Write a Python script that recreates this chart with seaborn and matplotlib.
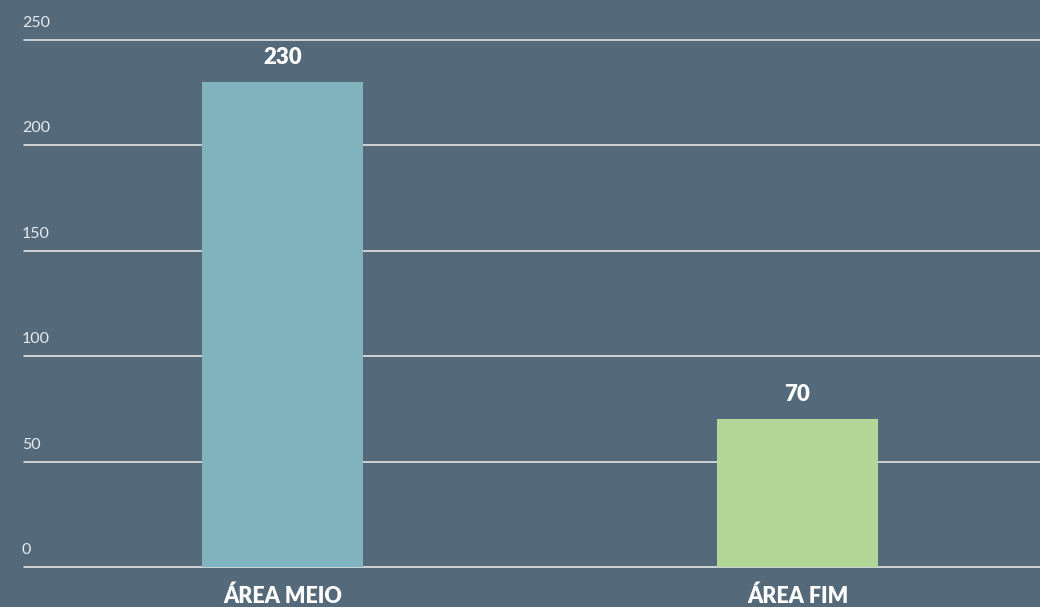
import matplotlib
matplotlib.use("Agg")
import matplotlib.pyplot as plt
import matplotlib.transforms as mtransforms
import seaborn as sns
import pandas as pd

# data
categories = ["ÁREA MEIO", "ÁREA FIM"]
values = [230, 70]
bar_colors = ["#82B4C0", "#B3D797"]
y_ticks = [0, 50, 100, 150, 200, 250]

bg = "#546A7B"

sns.set_theme(style="white")
plt.rcParams["font.family"] = ["Lato", "DejaVu Sans"]

df = pd.DataFrame({"area": categories, "valor": values})

fig = plt.figure(figsize=(10.4, 6.07), dpi=100, facecolor=bg)
ax = fig.add_axes([24 / 1040, 40 / 607, 1016 / 1040, 527 / 607])
ax.set_facecolor(bg)

sns.barplot(data=df, x="area", y="valor", hue="area", palette=bar_colors,
            width=0.3125, legend=False, ax=ax, zorder=3, saturation=1,
            edgecolor="none", linewidth=0)

ax.set_xlim(-0.502, 1.471)
ax.set_ylim(0, 250)

# gridlines under the bars
for t in y_ticks:
    ax.axhline(t, color="white", lw=1.1, alpha=0.9, zorder=1, clip_on=False)

# y tick labels sitting above each gridline
trans = mtransforms.blended_transform_factory(ax.transAxes, ax.transData)
offset = mtransforms.offset_copy(trans, fig=fig, x=-2, y=17, units="dots")
for t in y_ticks:
    ax.text(0, t, str(t), transform=offset, ha="left", va="center",
            color="#E6EBEF", fontsize=11.5)

# value labels
for i, v in enumerate(values):
    ax.annotate(str(v), (i, v), xytext=(0, 25), textcoords="offset pixels",
                ha="center", va="center", color="white", fontsize=16,
                fontweight="heavy")

ax.set_yticks([])
ax.set_xticks(range(len(categories)))
ax.set_xticklabels(categories, color="white", fontsize=15.5, fontweight="heavy")
ax.tick_params(axis="x", length=0, pad=13)
ax.set_xlabel("")
ax.set_ylabel("")
for s in ax.spines.values():
    s.set_visible(False)

fig.savefig("out.png", dpi=100, facecolor=bg)
